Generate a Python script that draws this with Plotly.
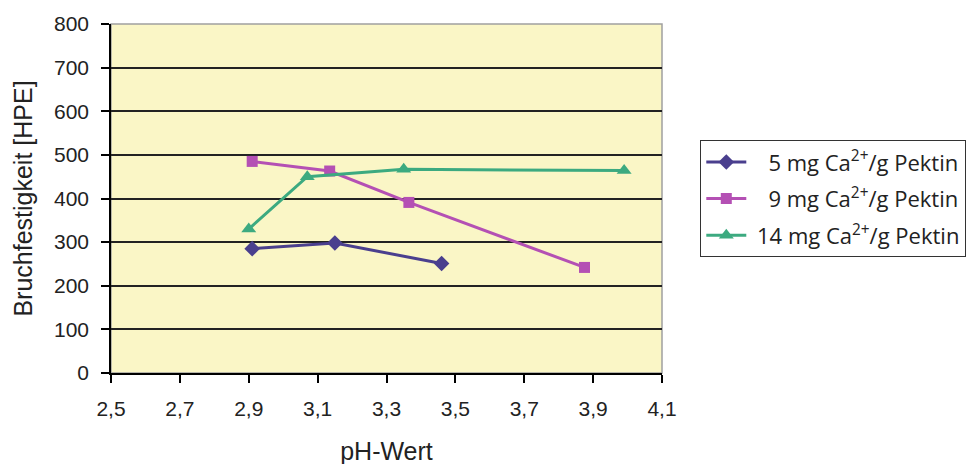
import plotly.graph_objects as go

ph_5 = [2.91, 3.15, 3.46]
val_5 = [285, 298, 251]
ph_9 = [2.91, 3.135, 3.365, 3.875]
val_9 = [485, 463, 391, 242]
ph_14 = [2.90, 3.07, 3.35, 3.99]
val_14 = [330, 450, 467, 464]

names = ["\u00a0\u00a0\u00a05 mg Ca<sup>2+</sup>/g Pektin",
         "\u00a0\u00a0\u00a09 mg Ca<sup>2+</sup>/g Pektin",
         "\u00a014 mg Ca<sup>2+</sup>/g Pektin"]
colors = ["#4A3F8E", "#B450B4", "#3CAA80"]
symbols = ["diamond", "square", "triangle-up"]
sizes = [12, 11, 13]
xs = [ph_5, ph_9, ph_14]
ys = [val_5, val_9, val_14]

x_ticks = [2.5, 2.7, 2.9, 3.1, 3.3, 3.5, 3.7, 3.9, 4.1]
y_ticks = [0, 100, 200, 300, 400, 500, 600, 700, 800]

fig = go.Figure()
for i in range(3):
    fig.add_trace(go.Scatter(
        x=xs[i], y=ys[i], mode="lines+markers", name=names[i],
        legendgroup=str(i),
        line=dict(color=colors[i], width=3),
        marker=dict(symbol=symbols[i], size=sizes[i], color=colors[i]),
    ))

fig.add_shape(type="rect", xref="paper", yref="paper", x0=0, x1=1, y0=0, y1=1,
              line=dict(color="#A0A0A0", width=1.5), layer="below")

fig.update_layout(
    width=978, height=464,
    margin=dict(l=103, r=324, t=16, b=99, autoexpand=False),
    paper_bgcolor="white",
    plot_bgcolor="#FAF6C6",
    separators=", ",
    font=dict(family="Liberation Sans, Arial, sans-serif", color="#222"),
    xaxis=dict(range=[2.5, 4.1], tickvals=x_ticks, tickformat=".1f",
               showgrid=False, zeroline=False,
               showline=True, linecolor="black", linewidth=1.5,
               ticks="outside", ticklen=8, tickcolor="black", tickwidth=1.5,
               ticklabelstandoff=8,
               tickfont=dict(size=21),
               title=dict(text="pH-Wert", font=dict(size=25), standoff=24)),
    yaxis=dict(range=[0, 800], tickvals=y_ticks,
               showgrid=True, gridcolor="#222", gridwidth=2,
               zeroline=False,
               showline=True, linecolor="black", linewidth=1.5,
               ticks="outside", ticklen=8, tickcolor="black", tickwidth=1.5,
               ticklabelstandoff=8,
               tickfont=dict(size=21),
               title=dict(text="Bruchfestigkeit [HPE]", font=dict(size=25), standoff=14)),
    legend=dict(x=1.0695, y=0.667, xanchor="left", yanchor="top",
                bordercolor="#333", borderwidth=1, bgcolor="white",
                font=dict(family="Open Sans, sans-serif", size=22, color="#222"),
                traceorder="grouped", tracegroupgap=5, itemwidth=40),
    showlegend=True,
)

fig.write_html("out.html")
